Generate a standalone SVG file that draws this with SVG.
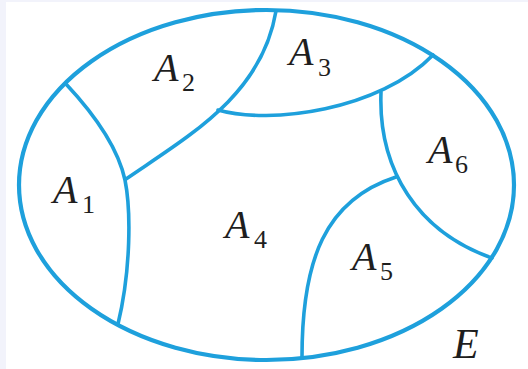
<svg xmlns="http://www.w3.org/2000/svg" width="528" height="369" viewBox="0 0 528 369">
<style>
.b{fill:none;stroke:#1ea0dc;stroke-linecap:round;stroke-linejoin:round}
.o{stroke-width:4.2}
.i{stroke-width:3.6}
.a{font-family:"Liberation Serif","Times New Roman",serif;font-style:italic;font-size:40px;fill:#1e1e1e}
.s{font-family:"Liberation Serif","Times New Roman",serif;font-size:26px;fill:#1e1e1e}
</style>
<rect width="528" height="369" fill="#ffffff"/>
<rect x="0" y="0" width="6" height="369" fill="#f2f3fb"/>
<rect x="0" y="0" width="528" height="2" fill="#f2f3fb"/>
<g id="boundary">
<ellipse class="b o" cx="266.5" cy="185" rx="247.5" ry="175"/>
</g>
<g id="connectors">
<path class="b i" d="M66,84 C95,115 118,148 125,180 C131,210 131,270 118,324"/>
<path class="b i" d="M126,179 C190,135 262,95 276,11"/>
<path class="b i" d="M218,110 C270,125 380,110 433,55"/>
<path class="b i" d="M381,92 C378,170 418,232 492,258"/>
<path class="b i" d="M396,177 C325,200 302,260 302,357"/>
</g>
<g id="A1"><text class="a" x="53" y="203">A</text><text class="s" x="82" y="213">1</text></g>
<g id="A2"><text class="a" x="154" y="81">A</text><text class="s" x="182" y="91">2</text></g>
<g id="A3"><text class="a" x="289" y="65">A</text><text class="s" x="318" y="76">3</text></g>
<g id="A4"><text class="a" x="225" y="238">A</text><text class="s" x="254" y="248">4</text></g>
<g id="A5"><text class="a" x="352" y="270">A</text><text class="s" x="380" y="280">5</text></g>
<g id="A6"><text class="a" x="428" y="163">A</text><text class="s" x="455" y="173">6</text></g>
<g id="E"><text class="a" x="453" y="358" style="font-size:42px">E</text></g>
</svg>
